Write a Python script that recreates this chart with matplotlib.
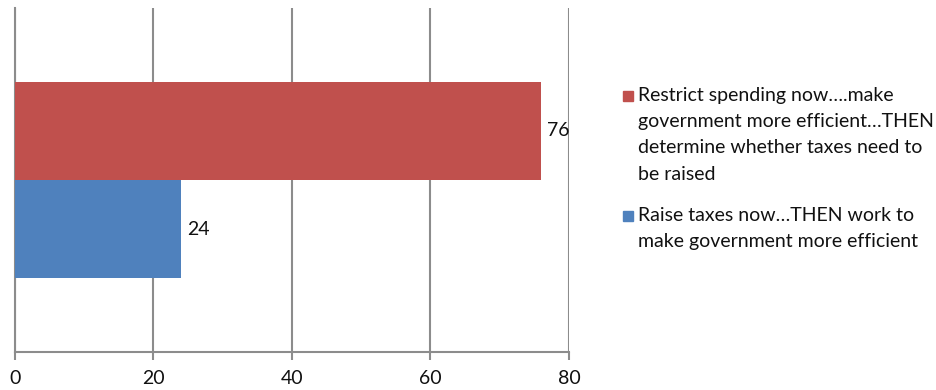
import matplotlib.pyplot as plt
from matplotlib.patches import Rectangle

plt.rcParams['font.family'] = ['Lato', 'DejaVu Sans']

# Survey responses (percent)
labels = [
    "Restrict spending now\u2026.make\ngovernment more efficient\u2026THEN\ndetermine whether taxes need to\nbe raised",
    "Raise taxes now\u2026THEN work to\nmake government more efficient",
]
values = [76, 24]
colors = ['#C0504D', '#4F81BD']
xticks = [0, 20, 40, 60, 80]

W, H = 937, 390
fig = plt.figure(figsize=(W / 100, H / 100), dpi=100)
ax = fig.add_axes([15 / W, 38 / H, (569 - 15) / W, (352 - 8) / H])

# one category, two series stacked top to bottom
bar_h = 0.286
positions = [bar_h / 2, -bar_h / 2]
for pos, val, col in zip(positions, values, colors):
    ax.barh(pos, val, height=bar_h, color=col, zorder=3)
    ax.annotate(str(val), (val, pos), xytext=(4, 0), textcoords='offset points',
                ha='left', va='center', fontsize=14, color='#111111')

ax.set_xlim(0, 80)
ax.set_ylim(-0.5, 0.5)
ax.set_xticks(xticks)
ax.set_yticks([])
ax.grid(axis='x', color='#8c8c8c', linewidth=1.5, zorder=0)
for side in ['top', 'right']:
    ax.spines[side].set_visible(False)
for side in ['left', 'bottom']:
    ax.spines[side].set_color('#8c8c8c')
    ax.spines[side].set_linewidth(1.5)
ax.tick_params(axis='x', colors='#8c8c8c', length=6, width=1.5,
               labelcolor='#111111', labelsize=14, pad=7)

# legend drawn by hand on the right
key_x = 623 / W
txt_x = 638 / W
tops = [87, 207]
for lab, col, top in zip(labels, colors, tops):
    fig.text(txt_x, 1 - top / H, lab, ha='left', va='top', fontsize=14,
             color='#111111', linespacing=1.66)
    fig.patches.append(Rectangle((key_x, 1 - (top + 14) / H), 10 / W, 10 / H,
                                 transform=fig.transFigure, color=col))

fig.savefig('out.png', dpi=100)
